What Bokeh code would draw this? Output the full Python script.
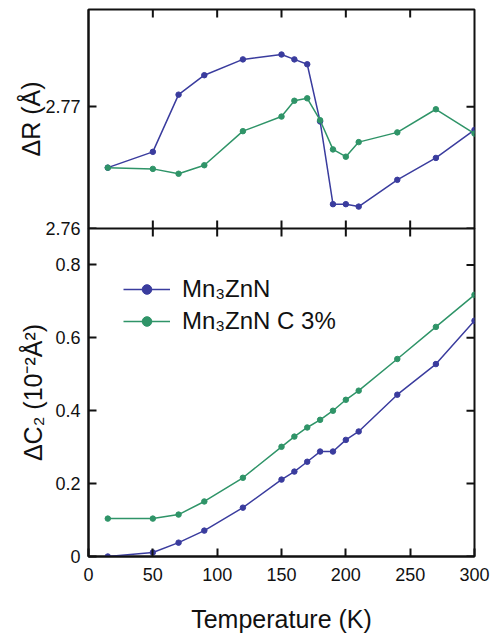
import math
from bokeh.plotting import figure
from bokeh.layouts import column
from bokeh.models import LinearAxis, Range1d, FixedTicker, Legend, LegendItem
from bokeh.embed import file_html
from bokeh.resources import INLINE

# ---- data ----
temps_top_pure = [15, 50, 70, 90, 120, 150, 160, 170, 180, 190, 200, 210, 240, 270, 300]
dR_pure = [2.7650, 2.7663, 2.7710, 2.7726, 2.7739, 2.7743, 2.7739, 2.7735, 2.7688,
           2.7620, 2.7620, 2.7618, 2.7640, 2.7658, 2.7681]
temps_top_c = [15, 50, 70, 90, 120, 150, 160, 170, 180, 190, 200, 210, 240, 270, 300]
dR_c = [2.7650, 2.7649, 2.7645, 2.7652, 2.7680, 2.7692, 2.7705, 2.7707, 2.7689,
        2.7665, 2.7659, 2.7671, 2.7679, 2.7698, 2.7678]

temps_bot = [15, 50, 70, 90, 120, 150, 160, 170, 180, 190, 200, 210, 240, 270, 300]
dC2_pure = [0.0, 0.011, 0.038, 0.071, 0.134, 0.211, 0.233, 0.260, 0.288, 0.288,
            0.320, 0.343, 0.444, 0.528, 0.647]
dC2_c = [0.104, 0.104, 0.115, 0.151, 0.216, 0.301, 0.329, 0.354, 0.375, 0.400,
         0.430, 0.455, 0.542, 0.630, 0.718]

series_names = ["Mn\u2083ZnN", "Mn\u2083ZnN C 3%"]
x_limits = (0, 300)
top_y_limits = (2.76, 2.778)
bot_y_limits = (0, 0.9)
x_ticks = [50, 100, 150, 200, 250]
x_tick_labels_at = [0, 50, 100, 150, 200, 250, 300]
top_y_ticks = [2.76, 2.77]
bot_y_ticks = [0, 0.2, 0.4, 0.6, 0.8]

BLUE = "#3a3c9e"
GREEN = "#2f9468"
INK = "#111111"
FONT = "Liberation Sans"


def add_axis(p, side, ticks, overrides=None):
    ax = LinearAxis(ticker=FixedTicker(ticks=ticks))
    ax.major_tick_in = 8
    ax.major_tick_out = 0
    ax.minor_tick_line_color = None
    ax.major_tick_line_width = 2
    ax.major_tick_line_color = INK
    ax.axis_line_width = 2
    ax.axis_line_color = INK
    ax.major_label_text_font = FONT
    ax.major_label_text_font_size = "18px"
    ax.major_label_text_color = INK
    ax.major_label_standoff = 8
    ax.axis_label_text_font = FONT
    ax.axis_label_text_font_style = "normal"
    ax.axis_label_text_font_size = "25px"
    ax.axis_label_text_color = INK
    if overrides:
        ax.major_label_overrides = overrides
    p.add_layout(ax, side)
    return ax


def inward_ticks(p, xs, ys, angle):
    p.scatter(xs, ys, marker="dash", size=16, angle=angle,
              line_color=INK, line_width=2)


def make_fig(height, ylim, mb_top, mb_bottom, **kw):
    p = figure(width=490, height=height, x_range=Range1d(*x_limits), y_range=Range1d(*ylim),
               x_axis_type=None, y_axis_type=None,
               output_backend="svg", toolbar_location=None,
               min_border_left=88, min_border_right=16,
               min_border_top=mb_top, min_border_bottom=mb_bottom, **kw)
    p.outline_line_color = INK
    p.outline_line_width = 2
    p.background_fill_color = "white"
    p.border_fill_color = "white"
    return p


# ---- top panel ----
p1 = make_fig(238, top_y_limits, 9, 10)
ay1 = add_axis(p1, "left", top_y_ticks, overrides={2.76: "2.76", 2.77: "2.77"})
ay1.axis_label = "\u0394R (\u00c5)"
ay1.axis_label_standoff = -3
inward_ticks(p1, x_ticks, [top_y_limits[1]] * len(x_ticks), math.pi / 2)
inward_ticks(p1, x_ticks, [top_y_limits[0]] * len(x_ticks), math.pi / 2)
inward_ticks(p1, [x_limits[1]] * len(top_y_ticks), top_y_ticks, 0)

p1.line(temps_top_pure, dR_pure, line_color=BLUE, line_width=1.5)
p1.scatter(temps_top_pure, dR_pure, size=5.5, fill_color=BLUE, line_color=BLUE)
p1.line(temps_top_c, dR_c, line_color=GREEN, line_width=1.5)
p1.scatter(temps_top_c, dR_c, size=5.5, fill_color=GREEN, line_color=GREEN)

# ---- bottom panel ----
p2 = make_fig(407, bot_y_limits, 0, 79, styles={"margin-top": "-10px"})
p2.border_fill_alpha = 0
ax2 = add_axis(p2, "below", x_tick_labels_at)
ax2.major_label_standoff = 11
ax2.axis_label = "Temperature (K)"
ax2.axis_label_standoff = 21
ay2 = add_axis(p2, "left", bot_y_ticks,
               overrides={0: "0", 0.2: "0.2", 0.4: "0.4", 0.6: "0.6", 0.8: "0.8"})
ay2.axis_label = "\u0394C\u2082 (10\u207b\u00b2\u00c5\u00b2)"
ay2.axis_label_standoff = 5
inward_ticks(p2, x_ticks, [bot_y_limits[1]] * len(x_ticks), math.pi / 2)
inward_ticks(p2, [x_limits[1]] * len(bot_y_ticks), bot_y_ticks, 0)

lb = p2.line(temps_bot, dC2_pure, line_color=BLUE, line_width=1.5)
sb = p2.scatter(temps_bot, dC2_pure, size=5.5, fill_color=BLUE, line_color=BLUE)
lg = p2.line(temps_bot, dC2_c, line_color=GREEN, line_width=1.5)
sg = p2.scatter(temps_bot, dC2_c, size=5.5, fill_color=GREEN, line_color=GREEN)

legend = Legend(items=[LegendItem(label=series_names[0], renderers=[lb, sb]),
                       LegendItem(label=series_names[1], renderers=[lg, sg])],
                location=(35, 221))
legend.border_line_color = None
legend.background_fill_alpha = 0
legend.label_text_font = FONT
legend.label_text_font_size = "24px"
legend.label_text_color = INK
legend.glyph_width = 47
legend.glyph_height = 24
legend.label_standoff = 12
legend.padding = 0
legend.margin = 0
legend.spacing = 4
p2.add_layout(legend)

layout = column(p1, p2, spacing=0)
open("out.html", "w").write(file_html(layout, INLINE))
